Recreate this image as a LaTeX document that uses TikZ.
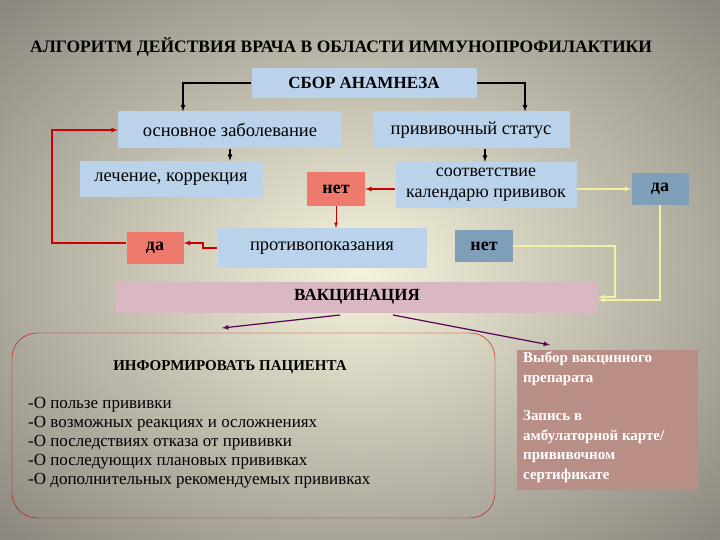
\documentclass[tikz,border=0pt]{standalone}
\usepackage{fontspec}
\setmainfont{Liberation Serif}
\begin{document}
\begin{tikzpicture}[x=1pt,y=-1pt,
 bx/.style={fill=#1,inner sep=0pt,font=\fontsize{18.5}{20}\selectfont},
 bb/.style={font=\bfseries\fontsize{18}{20}\selectfont},
 ar/.style={-latex,line width=1.2pt},
 ]
\useasboundingbox (0,0) rectangle (720,540);
\definecolor{bgo}{HTML}{8C8880}\definecolor{bgi}{HTML}{F6F3DC}
\begin{scope}
\clip (0,0) rectangle (720,540);
\shade[inner color=bgi,outer color=bgo] (-150,-100) rectangle (870,640);
\end{scope}
\definecolor{lb}{HTML}{BBD3EA}\definecolor{rd}{HTML}{EE7A6E}\definecolor{db}{HTML}{7F9FB9}
\definecolor{pk}{HTML}{D9B8C4}\definecolor{br}{HTML}{B98E86}\definecolor{yl}{HTML}{F5F0A0}
\node[font=\bfseries\fontsize{17.5}{19}\selectfont,anchor=west,inner sep=0pt] (t) at (30,47) {АЛГОРИТМ ДЕЙСТВИЯ ВРАЧА В ОБЛАСТИ ИММУНОПРОФИЛАКТИКИ};
\node[bx=lb,minimum width=225,minimum height=30,font=\bfseries\fontsize{17}{19}\selectfont] (s) at (364,83) {СБОР АНАМНЕЗА};
\node[bx=lb,minimum width=224,minimum height=37] (o) at (230,130) {основное заболевание};
\node[bx=lb,minimum width=197,minimum height=37] (p) at (471,130) {прививочный статус};
\node[bx=lb,minimum width=183,minimum height=36] (l) at (171,179) {лечение, коррекция};
\node[bx=rd,minimum width=58,minimum height=34,bb] (n1) at (336,189) {нет};
\node[bx=lb,minimum width=181,minimum height=46,align=center,font=\fontsize{18}{21}\selectfont] (c) at (486,185) {соответствие\\календарю прививок};
\node[bx=db,minimum width=57,minimum height=32,bb] (d1) at (660,189) {да};
\node[bx=rd,minimum width=57,minimum height=32,bb] (d2) at (155,248) {да};
\node[bx=lb,minimum width=209,minimum height=40] (pp) at (322,248) {противопоказания};
\node[bx=db,minimum width=58,minimum height=32,bb] (n2) at (484,246) {нет};
\node[bx=pk,minimum width=482,minimum height=31,font=\bfseries\fontsize{17}{19}\selectfont] (v) at (357,297) {ВАКЦИНАЦИЯ};
\node[draw=red!80!black,rounded corners=25,minimum width=483,minimum height=185,inner sep=0pt] (i) at (253.5,425.5) {};
\node[font=\bfseries\fontsize{15}{17}\selectfont] (ih) at (230,367) {ИНФОРМИРОВАТЬ ПАЦИЕНТА};
\node[anchor=north west,align=left,font=\fontsize{17}{19}\selectfont,inner sep=0pt] (il) at (28,397) {-О пользе прививки\\-О возможных реакциях и осложнениях\\-О последствиях отказа от прививки\\-О последующих плановых прививках\\-О дополнительных рекомендуемых прививках};
\node[fill=br,minimum width=181,minimum height=140,inner sep=0pt] (r) at (607,420) {};
\node[anchor=north west,align=left,text=white,font=\bfseries\fontsize{15}{19.5}\selectfont,inner sep=0pt] (rt) at (523,352) {Выбор вакцинного\\препарата\\[19pt]Запись в\\амбулаторной карте/\\прививочном\\сертификате};
\draw[ar] (s.west) -| (o.north -| 183,0);
\draw[ar] (s.east) -| (p.north -| 525,0);
\draw[ar] (o.south) -- (l.north -| o.south);
\draw[ar] (p.south -| 485,0) -- (c.north -| 485,0);
\draw[ar,red!80!black] (c.west |- n1) -- (n1.east);
\draw[ar,red!80!black,line width=0.8pt] (n1.south) -- (pp.north -| n1.south);
\draw[ar,red!80!black] (pp.west) -- (203,248) -- (203,243) -- (d2.east |- 0,243);
\draw[ar,red!80!black] (d2.west |- 0,243) -- (52,243) -- (52,130) -- (o.west);
\draw[ar,yl] (c.east |- d1) -- (d1.west);
\draw[ar,yl] (d1.south) -- (660,300) -- (v.east |- 0,300);
\draw[ar,yl] (n2.east) -- (615,246) -- (615,297) -- (v.east);
\draw[ar,violet!70!black] (340,315) -- (222,328);
\draw[ar,violet!70!black] (393,315) -- (550,345);
\end{tikzpicture}
\end{document}
